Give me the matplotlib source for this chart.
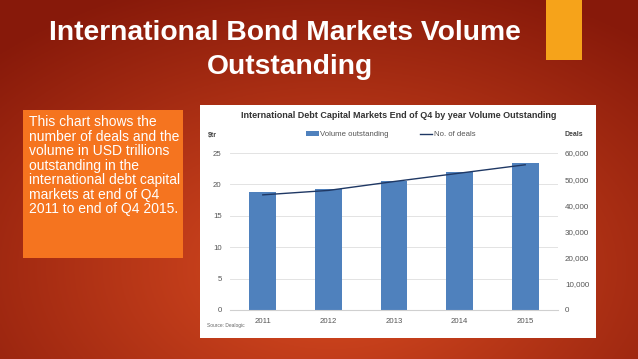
import numpy as np
import matplotlib; matplotlib.use("Agg")
import matplotlib.pyplot as plt
from matplotlib.patches import Rectangle
from matplotlib.ticker import FuncFormatter

years = ["2011", "2012", "2013", "2014", "2015"]
volume = [18.8, 19.3, 20.6, 22.0, 23.35]          # $tr
deals = [44000, 45700, 49100, 52300, 55500]       # No. of deals
left_ticks = [0, 5, 10, 15, 20, 25]
right_ticks = [0, 10000, 20000, 30000, 40000, 50000, 60000]

W, H = 638, 359
fig = plt.figure(figsize=(W / 100, H / 100), dpi=100)
plt.rcParams["font.family"] = ["Liberation Sans", "DejaVu Sans"]

# slide background: radial red-orange gradient
bg = fig.add_axes([0, 0, 1, 1]); bg.axis("off")
yy, xx = np.mgrid[0:1:200j, 0:1:360j]
r = np.sqrt(((xx - 0.52) / 0.75) ** 2 + ((yy - 0.75) / 0.85) ** 2)
r = np.clip(r, 0, 1)
c0 = np.array([0.86, 0.30, 0.13]); c1 = np.array([0.53, 0.10, 0.04])
img = c0[None, None, :] * (1 - r[..., None]) + c1[None, None, :] * r[..., None]
bg.imshow(img, extent=[0, W, H, 0], aspect="auto")
bg.set_xlim(0, W); bg.set_ylim(H, 0)

def rect(x0, y0, x1, y1, c):
    bg.add_patch(Rectangle((x0, y0), x1 - x0, y1 - y0, fc=c, ec="none"))

rect(546, 0, 582, 60, "#F6A31A")            # yellow accent
rect(23, 110, 183, 258, "#F5741F")          # orange note box
rect(200, 105, 596, 338, "white")           # chart panel

bg.text(285, 33, "International Bond Markets Volume", ha="center", va="center",
        color="white", fontsize=20.3, fontweight="bold")
bg.text(290, 67, "Outstanding", ha="center", va="center",
        color="white", fontsize=20.3, fontweight="bold")
bg.text(29, 115, "This chart shows the\nnumber of deals and the\nvolume in USD trillions\n"
        "outstanding in the\ninternational debt capital\nmarkets at end of Q4\n"
        "2011 to end of Q4 2015.", ha="left", va="top", color="white",
        fontsize=10, linespacing=1.05)

bg.text(399, 115, "International Debt Capital Markets End of Q4 by year Volume Outstanding",
        ha="center", va="center", fontsize=6.5, fontweight="bold", color="#333333")
bg.text(212, 135, "$tr", ha="center", va="center", fontsize=5, fontweight="bold", color="#444444")
bg.text(574, 135, "Deals", ha="center", va="center", fontsize=5, fontweight="bold", color="#444444")
bg.text(207, 325, "Source: Dealogic", ha="left", va="center", fontsize=3.5, color="#666666")

# chart
ax = fig.add_axes([230 / W, 1 - 310 / H, (558 - 230) / W, (310 - 153) / H])
ax.patch.set_alpha(0)
x = np.arange(len(years))
ax.bar(x, volume, width=0.41, color="#4F81BD", label="Volume outstanding", zorder=2)
ax.set_xlim(-0.5, len(years) - 0.5)
ax.set_ylim(0, 25)
ax.set_yticks(left_ticks)
ax.set_xticks(x, years)
ax.grid(axis="y", color="#e3e3e3", lw=0.7, zorder=0)
for s in ax.spines.values():
    s.set_visible(False)
ax.spines["bottom"].set_visible(True); ax.spines["bottom"].set_color("#d0d0d0")
ax.tick_params(length=0, labelsize=5.6, labelcolor="#555555", pad=6)

ax2 = ax.twinx()
ax2.plot(x, deals, color="#1F3864", lw=1.0, label="No. of deals", zorder=3)
ax2.set_ylim(0, 60000)
ax2.set_yticks(right_ticks)
ax2.yaxis.set_major_formatter(FuncFormatter(lambda v, p: f"{int(v):,}"))
for s in ax2.spines.values():
    s.set_visible(False)
ax2.tick_params(length=0, labelsize=5.8, labelcolor="#555555", pad=5)

h1, l1 = ax.get_legend_handles_labels()
h2, l2 = ax2.get_legend_handles_labels()
ax.legend(h1 + h2, l1 + l2, loc="center", bbox_to_anchor=(0.49, 1.115), ncol=2,
          frameon=False, fontsize=5.6, labelcolor="#555555", handlelength=1.6,
          handleheight=0.5, columnspacing=4, handletextpad=0.2)

fig.savefig("out.png", dpi=100)
